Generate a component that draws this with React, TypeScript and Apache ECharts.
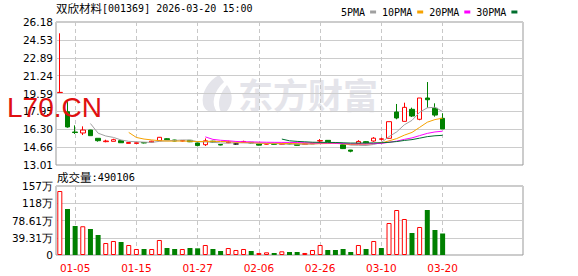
import React, { useEffect, useRef } from "react";
import * as echarts from "echarts";

const dates = [
  "12-30", "12-31", "01-05", "01-06", "01-07", "01-08", "01-09", "01-12", "01-13", "01-14",
  "01-15", "01-16", "01-19", "01-20", "01-21", "01-22", "01-23", "01-26", "01-27", "01-28",
  "01-29", "01-30", "02-02", "02-03", "02-04", "02-05", "02-06", "02-09", "02-10", "02-11",
  "02-12", "02-13", "02-24", "02-25", "02-26", "02-27", "03-02", "03-03", "03-04", "03-05",
  "03-06", "03-09", "03-10", "03-11", "03-12", "03-13", "03-16", "03-17", "03-18", "03-19",
  "03-20",
];
const opens = [
  19.68, 17.92, 16.05, 15.96, 16.23, 15.47, 15.16, 15.19, 15.25, 15.0, 15.0, 15.08, 15.1, 15.25,
  15.43, 15.31, 15.22, 15.28, 15.04, 14.88, 15.2, 14.9, 15.06, 14.95, 15.1, 15.1, 14.95, 14.93,
  14.96, 14.92, 15.0, 14.93, 14.92, 14.96, 15.22, 15.28, 15.08, 14.87, 14.39, 14.98, 15.16, 15.22,
  15.38, 15.47, 17.89, 17.03, 18.14, 17.22, 19.18, 18.23, 17.31,
];
const closes = [
  19.7, 16.51, 16.0, 16.23, 15.71, 15.25, 15.22, 15.34, 15.06, 15.08, 15.06, 15.04, 15.2, 15.56,
  15.34, 15.22, 15.26, 15.15, 14.8, 15.24, 15.12, 14.85, 15.13, 14.95, 15.18, 15.04, 14.84, 14.96,
  14.92, 14.98, 14.95, 14.82, 14.95, 15.02, 15.26, 15.16, 15.0, 14.52, 14.28, 15.18, 15.05, 15.48,
  15.42, 17.0, 17.34, 18.32, 17.52, 19.18, 19.02, 17.61, 16.33,
];
const lows = [
  19.68, 16.45, 15.87, 15.77, 15.71, 15.16, 15.1, 15.19, 15.04, 15.0, 14.98, 15.0, 15.08, 15.25,
  15.32, 15.2, 15.18, 15.12, 14.73, 14.76, 15.08, 14.82, 15.02, 14.9, 15.08, 15.0, 14.82, 14.9,
  14.9, 14.9, 14.92, 14.8, 14.9, 14.94, 15.1, 15.14, 14.98, 14.48, 14.18, 14.96, 15.0, 15.15,
  15.25, 15.45, 17.22, 17.03, 17.43, 17.13, 18.28, 17.46, 16.33,
];
const highs = [
  25.14, 18.93, 16.66, 16.57, 16.25, 15.47, 15.34, 15.43, 15.28, 15.1, 15.08, 15.1, 15.24, 15.59,
  15.48, 15.33, 15.3, 15.3, 15.06, 15.46, 15.24, 14.92, 15.25, 15.0, 15.25, 15.12, 14.96, 14.98,
  14.98, 15.0, 15.02, 14.95, 14.97, 15.05, 15.4, 15.3, 15.1, 14.9, 14.4, 15.3, 15.22, 15.58,
  15.52, 17.0, 18.63, 18.75, 18.29, 19.18, 20.65, 18.69, 17.77,
];
// volume in 万 (10k shares)
const volumes = [
  145.8, 104.8, 66.1, 65.5, 59.2, 45.6, 27.3, 31.9, 29.6, 22.8, 13.7, 13.7, 13.7, 34.2, 15.9,
  13.7, 13.7, 15.9, 15.2, 22.8, 13.7, 9.1, 15.9, 11.4, 13.7, 9.1, 4.6, 6.1, 4.6, 8.4, 6.8, 6.8,
  4.6, 11.4, 22.8, 11.4, 11.4, 13.7, 6.8, 22.8, 13.7, 31.9, 15.9, 72.9, 102.5, 82.0, 50.1, 63.8,
  102.5, 57.0, 49.0106,
];
// u = red (up), d = green (down) volume bar, one letter per day
const volumeDir =
  "uddudduudu" + "uduudduddu" + "dduuuduudu" + "dduuuddddu" + "duduuududdd";
const priceTicks = ["13.01", "14.66", "16.30", "17.95", "19.59", "21.24", "22.89", "24.53", "26.18"];
const volumeTicks = ["0", "39.31万", "78.61万", "118万", "157万"];
const maPeriods = [5, 10, 20, 30];
const maNames = ["5PMA", "10PMA", "20PMA", "30PMA"];
const maColors = ["#a0a0a0", "#f5a200", "#ff00ff", "#006e2e"];
const volInterval = 39.305;

const LOGO_D =
  "M19 0 C8 6 1 18 3 29 C4 34 8 37 13 37 L17 37 C11 29 13 17 24 7 Z M27 10 C19 19 17 29 21 37 L26 37 C33 30 34 19 27 10 Z";

const UP = "#ff0000";
const DOWN = "#008000";

function movingAverage(p: number) {
  return closes.map((_, i) => {
    if (i < p - 1) return "-";
    let s = 0;
    for (let k = i - p + 1; k <= i; k++) s += closes[k];
    return +(s / p).toFixed(3);
  });
}

export default function App() {
  const ref = useRef<HTMLDivElement>(null);
  useEffect(() => {
    if (!ref.current) return;
    echarts.graphic.registerShape("emlogo", echarts.graphic.extendPath(LOGO_D, {}) as any);
    const chart = echarts.init(ref.current, null, { renderer: "svg" });
    const categories = [...dates, ...Array.from({ length: 10 }, (_, k) => " ".repeat(k + 1))];
    const labelInterval = (index: number) => index % 8 === 2 && index < dates.length;
    const dashed = { color: "#c8c8c8", type: [4, 3] as any, width: 1 };
    const axisFont = "DejaVu Sans";
    const candleData = dates.map((_, i) => [opens[i], closes[i], lows[i], highs[i]]);
    const volData = volumes.map((v, i) => {
      const up = volumeDir[i] === "u";
      return {
        value: v,
        itemStyle: up
          ? { color: "#ffffff", borderColor: UP, borderWidth: 1 }
          : { color: DOWN, borderColor: DOWN, borderWidth: 0 },
      };
    });
    const option: any = {
      animation: false,
      backgroundColor: "#ffffff",
      legend: {
        left: 336,
        top: 2,
        icon: "rect",
        itemWidth: 6,
        itemHeight: 3,
        itemGap: 6,
        align: "right",
        selectedMode: false,
        data: maNames,
        textStyle: { fontFamily: "DejaVu Sans Mono", fontSize: 10, color: "#000" },
      },
      grid: [
        { left: 56, top: 22, width: 467, height: 143, show: true, borderColor: "#999", borderWidth: 1 },
        { left: 56, top: 186, width: 467, height: 69, show: true, borderColor: "#999", borderWidth: 1 },
      ],
      xAxis: [
        {
          type: "category",
          gridIndex: 0,
          data: categories,
          boundaryGap: true,
          axisLine: { show: false },
          axisTick: { show: false },
          axisLabel: { show: false },
          splitLine: { show: true, alignWithLabel: true, interval: labelInterval, lineStyle: dashed },
        },
        {
          type: "category",
          gridIndex: 1,
          data: categories,
          boundaryGap: true,
          axisLine: { show: false },
          axisTick: { show: false },
          axisLabel: {
            interval: labelInterval,
            color: UP,
            fontFamily: axisFont,
            fontSize: 10.5,
            margin: 7,
          },
          splitLine: { show: true, alignWithLabel: true, interval: labelInterval, lineStyle: dashed },
        },
      ],
      yAxis: [
        {
          type: "value",
          gridIndex: 0,
          min: 0,
          max: priceTicks.length - 1,
          interval: 1,
          axisLine: { show: false },
          axisTick: { show: false },
          axisLabel: {
            formatter: (v: number) => priceTicks[Math.round(v)],
            color: "#000",
            fontFamily: axisFont,
            fontSize: 10.5,
            margin: 3,
          },
          splitLine: { lineStyle: { color: "#cccccc", width: 1 } },
        },
        {
          type: "value",
          gridIndex: 0,
          min: parseFloat(priceTicks[0]),
          max: parseFloat(priceTicks[priceTicks.length - 1]),
          show: false,
          splitLine: { show: false },
        },
        {
          type: "value",
          gridIndex: 1,
          min: 0,
          max: volInterval * (volumeTicks.length - 1),
          interval: volInterval,
          axisLine: { show: false },
          axisTick: { show: false },
          axisLabel: {
            formatter: (v: number) => volumeTicks[Math.round(v / volInterval)],
            color: "#000",
            fontFamily: axisFont,
            fontSize: 10.5,
            margin: 3,
          },
          splitLine: { lineStyle: { color: "#cccccc", width: 1 } },
        },
      ],
      graphic: [
        {
          type: "emlogo",
          x: 200,
          y: 75,
          scaleX: 1,
          scaleY: 1,
          z: -10,
          silent: true,
          style: { fill: "#e4e4ea" },
        },
        {
          type: "text",
          x: 238,
          y: 93,
          z: -10,
          silent: true,
          style: {
            text: "东方财富",
            fill: "#e4e4ea",
            fontSize: 35,
            fontWeight: "bold",
            fontFamily: "Noto Sans CJK SC",
            verticalAlign: "middle",
          },
        },
        {
          type: "text",
          x: 56,
          y: 8,
          style: {
            text: "{a|双欣材料}{b|[001369] 2026-03-20 15:00}",
            verticalAlign: "middle",
            rich: {
              a: { fontFamily: "Noto Sans CJK SC", fontSize: 11.5, fill: "#000", color: "#000" },
              b: { fontFamily: "DejaVu Sans Mono", fontSize: 10, fill: "#000", color: "#000" },
            },
          },
        },
        {
          type: "text",
          x: 57,
          y: 177,
          style: {
            text: "{a|成交量}{b|:490106}",
            verticalAlign: "middle",
            rich: {
              a: { fontFamily: "Noto Sans CJK SC", fontSize: 11.5, fill: "#000", color: "#000" },
              b: { fontFamily: "DejaVu Sans Mono", fontSize: 10.3, fill: "#000", color: "#000" },
            },
          },
        },
        {
          type: "text",
          x: 7,
          y: 107,
          z: 100,
          style: {
            text: "L70.CN",
            fill: "#e01010",
            fontSize: 28,
            fontFamily: "Liberation Sans",
            verticalAlign: "middle",
          },
        },
      ],
      series: [
        {
          type: "candlestick",
          name: "K",
          xAxisIndex: 0,
          yAxisIndex: 1,
          barWidth: 5,
          data: candleData,
          itemStyle: {
            color: "#ffffff",
            color0: DOWN,
            borderColor: UP,
            borderColor0: DOWN,
            borderColorDoji: "#000000",
            borderWidth: 1,
          },
        },
        ...maPeriods.map((p, k) => ({
          type: "line",
          name: maNames[k],
          xAxisIndex: 0,
          yAxisIndex: 1,
          data: movingAverage(p),
          symbol: "none",
          showSymbol: false,
          color: maColors[k],
          lineStyle: { color: maColors[k], width: 1 },
        })),
        {
          type: "bar",
          name: "VOL",
          xAxisIndex: 1,
          yAxisIndex: 2,
          barWidth: 5,
          data: volData,
        },
      ],
    };
    chart.setOption(option);
    return () => chart.dispose();
  }, []);
  return (
    <div
      ref={ref}
      style={{ position: "fixed", left: 0, top: 0, width: 578, height: 276, background: "#fff" }}
    />
  );
}
